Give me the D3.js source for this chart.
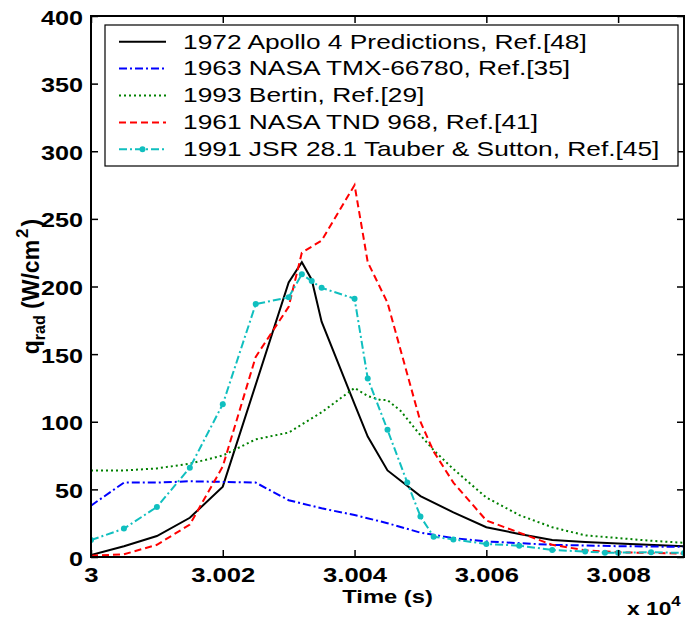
<!DOCTYPE html>
<html>
<head>
<meta charset="utf-8">
<script src="https://cdn.jsdelivr.net/npm/d3@7"></script>
<style>
  body { margin: 0; background: #fff; }
  svg { display: block; font-family: Arial, "Liberation Sans", sans-serif; }
</style>
</head>
<body>
<svg id="chart" width="686" height="622"></svg>
<script>
// radiative heating curves (time in s, q in W/cm^2)
const apollo = [[30000,1.5],[30005,8],[30010,15.5],[30015,29],[30020,52],[30030,203],[30032,218],
  [30033.5,205],[30035,174],[30040,113],[30042,89],[30045,64],[30050,45],[30055,33],[30060,22],
  [30065,17],[30070,12.5],[30075,11],[30080,10],[30090,8]]
const tmx = [[30000,38],[30005,55],[30010,55],[30015,56],[30020,55.5],[30025,55],[30030,42],
  [30035,36],[30040,31],[30045,25],[30050,18],[30055,14],[30060,11.5],[30070,9],[30080,8],[30090,7.5]]
const bertin = [[30000,64],[30005,64],[30010,65.5],[30015,69],[30020,75],[30025,87],[30030,92],
  [30033,101],[30035,107],[30040,125],[30042,119],[30044,116],[30045,116],[30047,108],[30050,90],
  [30052,79],[30055,65],[30060,44],[30065,31],[30070,22],[30075,16],[30080,14],[30085,12],[30090,10.5]]
const tnd = [[30000,1],[30005,2],[30010,9],[30015,24],[30020,67],[30025,148],[30030,185],[30032,225],
  [30035,234],[30040,275],[30042,218],[30045,188],[30050,100],[30052,78],[30055,55],[30060,27],
  [30065,18],[30070,9],[30075,5],[30080,3.5],[30090,2.5]]
const tauber = [[30000,12.5],[30005,21],[30010,37],[30015,66],[30020,113],[30025,187],[30030,192],
  [30032,209],[30033.5,204],[30035,199],[30040,191],[30042,132],[30045,94],[30048,55],[30050,30],
  [30052,15],[30055,13],[30060,9.6],[30065,8.4],[30070,5.2],[30075,4],[30078,3.2],[30080,3.2],
  [30085,3.5],[30090,3]]

const xTicks = [30000, 30020, 30040, 30060, 30080]
const xTickLabels = ["3", "3.002", "3.004", "3.006", "3.008"]
const yTicks = [0, 50, 100, 150, 200, 250, 300, 350, 400]

const seriesNames = [
  "1972 Apollo 4 Predictions, Ref.[48]",
  "1963 NASA TMX-66780, Ref.[35]",
  "1993 Bertin, Ref.[29]",
  "1961 NASA TND 968, Ref.[41]",
  "1991 JSR 28.1 Tauber & Sutton, Ref.[45]"
]

const series = [
  { data: apollo, color: "#000000", dash: null, marker: false },
  { data: tmx, color: "#0000ff", dash: "8,3,2,3", marker: false },
  { data: bertin, color: "#008000", dash: "2,3", marker: false },
  { data: tnd, color: "#ff0000", dash: "7,4", marker: false },
  { data: tauber, color: "#10bfbf", dash: "8,3,2,3", marker: true }
]

const W = 686, H = 622
const margin = { top: 16, right: 2, bottom: 65, left: 91 }

const svg = d3.select("#chart")

const x = d3.scaleLinear().domain([30000, 30090]).range([margin.left, W - margin.right])
const y = d3.scaleLinear().domain([0, 400]).range([H - margin.bottom, margin.top])

svg.append("defs").append("clipPath").attr("id", "plot-clip")
  .append("rect")
  .attr("x", margin.left).attr("y", margin.top)
  .attr("width", x.range()[1] - x.range()[0])
  .attr("height", y.range()[0] - y.range()[1])

const line = d3.line().x(d => x(d[0])).y(d => y(d[1]))

const plot = svg.append("g").attr("clip-path", "url(#plot-clip)")

series.forEach(s => {
  plot.append("path")
    .datum(s.data)
    .attr("d", line)
    .attr("fill", "none")
    .attr("stroke", s.color)
    .attr("stroke-width", 2)
    .attr("stroke-dasharray", s.dash)
  if (s.marker) {
    plot.selectAll(null)
      .data(s.data)
      .enter()
      .append("circle")
      .attr("cx", d => x(d[0]))
      .attr("cy", d => y(d[1]))
      .attr("r", 3)
      .attr("fill", s.color)
  }
})

// axes, ticks pointing inwards on all four sides
const tickStyle = g => {
  g.select(".domain").remove()
  g.selectAll("line").attr("stroke", "#000").attr("stroke-width", 1.5)
}

svg.append("g")
  .attr("transform", `translate(0,${y(0)})`)
  .call(d3.axisBottom(x).tickValues(xTicks).tickSize(-7).tickFormat((d, i) => xTickLabels[i]))
  .call(tickStyle)
  .call(g => g.selectAll("text")
    .attr("y", 0).attr("dy", 0)
    .attr("transform", "translate(0,25) scale(1.22,1)")
    .attr("font-size", 21).attr("font-weight", "bold").attr("fill", "#000")
    .attr("font-family", "Arial, 'Liberation Sans', sans-serif"))

svg.append("g")
  .attr("transform", `translate(0,${y(400)})`)
  .call(d3.axisTop(x).tickValues(xTicks).tickSize(-7).tickFormat(""))
  .call(tickStyle)

svg.append("g")
  .attr("transform", `translate(${x(30000)},0)`)
  .call(d3.axisLeft(y).tickValues(yTicks).tickSize(-7))
  .call(tickStyle)
  .call(g => g.selectAll("text")
    .attr("x", 0).attr("dy", 0)
    .attr("transform", "translate(-8,8) scale(1.2,1)")
    .attr("font-size", 21).attr("font-weight", "bold").attr("fill", "#000")
    .attr("font-family", "Arial, 'Liberation Sans', sans-serif"))

svg.append("g")
  .attr("transform", `translate(${x(30090)},0)`)
  .call(d3.axisRight(y).tickValues(yTicks).tickSize(-7).tickFormat(""))
  .call(tickStyle)

svg.append("rect")
  .attr("x", x(30000)).attr("y", y(400))
  .attr("width", x(30090) - x(30000)).attr("height", y(0) - y(400))
  .attr("fill", "none").attr("stroke", "#000").attr("stroke-width", 2)

// axis labels
svg.append("text")
  .attr("transform", `translate(${(x(30000) + x(30090)) / 2},603) scale(1.25,1)`)
  .attr("text-anchor", "middle")
  .attr("font-size", 19).attr("font-weight", "bold")
  .text("Time (s)")

const exp = svg.append("text")
  .attr("transform", "translate(627,615) scale(1.2,1)")
  .attr("font-size", 19).attr("font-weight", "bold")
exp.append("tspan").text("x 10")
exp.append("tspan").attr("dy", -9).attr("font-size", 14).text("4")

const ylab = svg.append("text")
  .attr("transform", `translate(39,${(y(0) + y(400)) / 2}) rotate(-90)`)
  .attr("text-anchor", "middle")
  .attr("font-size", 23).attr("font-weight", "bold")
ylab.append("tspan").text("q")
ylab.append("tspan").attr("dy", 6).attr("font-size", 16).text("rad")
ylab.append("tspan").attr("dy", -6).text(" (W/cm")
ylab.append("tspan").attr("dy", -11).attr("dx", 2).attr("font-size", 17).text("2")
ylab.append("tspan").attr("dy", 11).attr("dx", 2).text(")")

// legend
const legend = svg.append("g")
legend.append("rect")
  .attr("x", 105).attr("y", 25).attr("width", 573).attr("height", 141)
  .attr("fill", "#fff").attr("stroke", "#000").attr("stroke-width", 1.2)

seriesNames.forEach((name, i) => {
  const s = series[i]
  const cy = 41.7 + i * 26.9
  legend.append("line")
    .attr("x1", 119).attr("x2", 166).attr("y1", cy).attr("y2", cy)
    .attr("stroke", s.color).attr("stroke-width", 2)
    .attr("stroke-dasharray", s.dash)
  if (s.marker) {
    legend.append("circle").attr("cx", 142.5).attr("cy", cy).attr("r", 3).attr("fill", s.color)
  }
  legend.append("text")
    .attr("transform", `translate(183,${cy + 6.8}) scale(1.33,1)`)
    .attr("font-size", 19.8)
    .text(name)
})
</script>
</body>
</html>
